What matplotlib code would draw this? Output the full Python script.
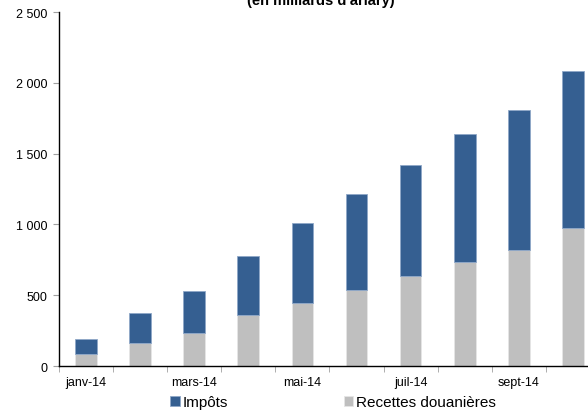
import matplotlib.pyplot as plt
from matplotlib.ticker import FuncFormatter

plt.rcParams['font.family'] = ['Liberation Sans', 'DejaVu Sans']

# Monthly cumulative receipts (billions of ariary)
months = ['janv-14', 'févr-14', 'mars-14', 'avr-14', 'mai-14',
          'juin-14', 'juil-14', 'août-14', 'sept-14', 'oct-14']
douanes = [84, 162, 234, 359, 448, 535, 638, 732, 817, 972]
impots = [106, 211, 296, 420, 561, 683, 782, 906, 992, 1110]

blue = '#355F91'
grey = '#BFBFBF'

fig = plt.figure(figsize=(5.88, 4.14), dpi=100)
ax = fig.add_axes([0.1003, 0.1135, 0.92, 0.855])

x = list(range(len(months)))
ax.bar(x, douanes, width=0.4, color=grey, edgecolor='#E6E6E6', linewidth=0.6,
       label='Recettes douanières')
ax.bar(x, impots, width=0.4, bottom=douanes, color=blue, edgecolor='#8FA8C8',
       linewidth=0.6, label='Impôts')

ax.set_xlim(-0.5, len(months) - 0.5)
ax.set_ylim(0, 2500)
ax.set_yticks([0, 500, 1000, 1500, 2000, 2500])
ax.yaxis.set_major_formatter(FuncFormatter(lambda v, p: f'{int(v):,}'.replace(',', ' ')))

# category labels every other month, ticks between categories
ax.set_xticks(x[::2])
ax.set_xticklabels(months[::2], fontsize=9)
ax.set_xticks([i - 0.5 for i in range(len(months) + 1)], minor=True)
ax.tick_params(axis='x', which='major', length=0, pad=7)
ax.tick_params(axis='x', which='minor', length=4, color='#A0A0A0')
ax.tick_params(axis='y', length=4, color='#A0A0A0', labelsize=9, pad=4)

for s in ['top', 'right']:
    ax.spines[s].set_visible(False)
ax.spines['left'].set_linewidth(1.0)
ax.spines['bottom'].set_linewidth(1.0)

fig.text(0.545, 1 - 5 / 414, "(en milliards d'ariary)", ha='center', va='baseline',
         fontsize=10.5, fontweight='bold')

handles, labels = ax.get_legend_handles_labels()
fig.legend(handles[::-1], labels[::-1], loc='center', bbox_to_anchor=(0.567, 0.026),
           ncol=2, frameon=False, fontsize=11, handlelength=0.6, handleheight=0.6,
           handletextpad=0.2, columnspacing=7.6, borderpad=0)

fig.savefig('out.png', dpi=100)
